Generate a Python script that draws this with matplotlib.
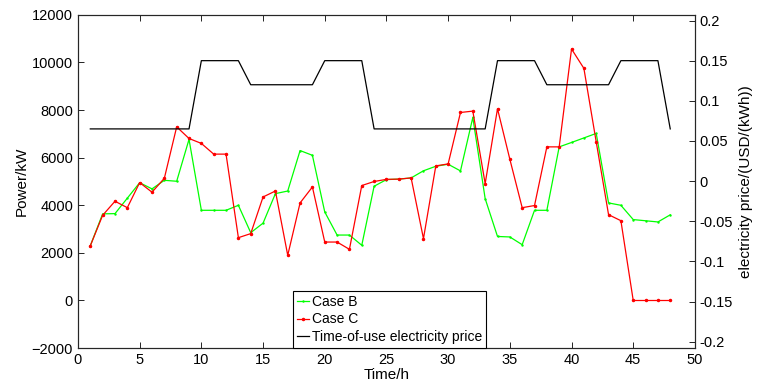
import matplotlib
matplotlib.use("Agg")
from matplotlib import pyplot as plt
from matplotlib.ticker import FuncFormatter
import numpy as np

plt.rcParams['font.family'] = ['Liberation Sans', 'DejaVu Sans']

hours = list(range(1, 49))

caseB = [2300, 3640, 3650, 4300, 4950, 4690, 5050, 5010, 6770, 3790,
         3790, 3790, 4000, 2850, 3250, 4490, 4600, 6300, 6100, 3720,
         2750, 2750, 2320, 4800, 5080, 5100, 5150, 5450, 5640, 5725,
         5445, 7690, 4280, 2690, 2670, 2345, 3790, 3790, 6455, 6640,
         6830, 7020, 4100, 4000, 3400, 3350, 3300, 3600]

caseC = [2300, 3580, 4170, 3900, 4955, 4550, 5136, 7296, 6807, 6600,
         6150, 6150, 2640, 2810, 4350, 4600, 1900, 4100, 4770, 2456,
         2456, 2150, 4830, 5000, 5090, 5100, 5150, 2600, 5655, 5740,
         7900, 7957, 4910, 8056, 5936, 3900, 3990, 6455, 6455, 10567,
         9754, 6666, 3606, 3353, 0, 0, 0, 0]

low, mid, high = 0.065, 0.12, 0.15
price = ([low] * 9 + [high] * 4 + [mid] * 6 + [high] * 4 + [low] * 10
         + [high] * 4 + [mid] * 6 + [high] * 4 + [low])

fig = plt.figure(figsize=(7.57, 3.92), dpi=100)
ax1 = fig.add_axes([0.103, 0.112, 0.815, 0.85])

l1, = ax1.plot(hours, caseB, color='#00ff00', lw=0.9, marker='.', ms=1.5)
l2, = ax1.plot(hours, caseC, color='#ff0000', lw=0.9, marker='.', ms=3)
ax1.set_xlim(0, 50)
ax1.set_ylim(-2000, 12000)
ax1.set_xticks(range(0, 51, 5))
ax1.set_yticks(range(-2000, 12001, 2000))
ax1.set_ylabel('Power/kW', fontsize=11, labelpad=2)
ax1.set_xlabel('Time/h', fontsize=11, labelpad=1)
ax1.tick_params(direction='in', labelsize=10.5, top=True, length=4, width=0.6)

ax2 = ax1.twinx()
l3, = ax2.plot(hours, price, color='black', lw=0.9)
ax2.set_ylim(-0.208, 0.207)
ax2.set_yticks([-0.2, -0.15, -0.1, -0.05, 0, 0.05, 0.1, 0.15, 0.2])
ax2.yaxis.set_major_formatter(FuncFormatter(lambda v, p: '%g' % round(v, 2)))
ax2.set_ylabel('electricity price/(USD/(kWh))', fontsize=11, labelpad=4)
ax2.tick_params(direction='in', labelsize=10.5, length=4, width=0.6)

for ax in (ax1, ax2):
    for s in ax.spines.values():
        s.set_linewidth(0.8)
        s.set_color('#262626')

leg = ax2.legend([l1, l2, l3], ['Case B', 'Case C', 'Time-of-use electricity price'],
                 loc='lower center', bbox_to_anchor=(0.505, 0.0), borderaxespad=0,
                 fontsize=10, handlelength=0.9, handletextpad=0.2,
                 labelspacing=0.25, borderpad=0.3, fancybox=False,
                 framealpha=1, edgecolor='black')
leg.get_frame().set_linewidth(0.8)

plt.savefig('out.png', dpi=100)
plt.close(fig)
